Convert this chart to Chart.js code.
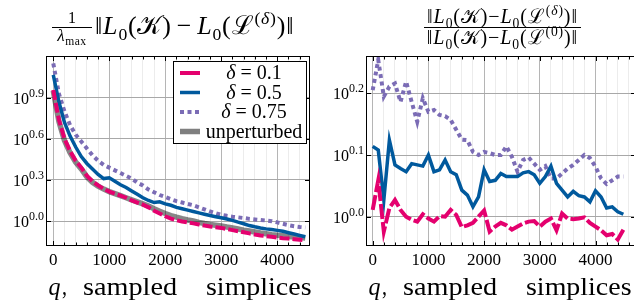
<!DOCTYPE html>
<html>
<head>
<meta charset="utf-8">
<script src="https://cdn.jsdelivr.net/npm/chart.js@4"></script>
<style>
  body { margin: 0; width: 634px; height: 305px; overflow: hidden; position: relative; background: #fff;
         font-family: "Liberation Serif", "DejaVu Serif", serif; color: #000; }
  canvas { position: absolute; top: 0; }
  .t { position: absolute; white-space: nowrap; line-height: 1; }
  .bar { position: absolute; height: 1px; background: #000; }
  sub, sup { font-size: 0.68em; line-height: 0; }
  .op { padding: 0 5px; }
</style>
</head>
<body>
<canvas id="left" width="320" height="305" style="left:0"></canvas>
<canvas id="right" width="320" height="305" style="left:320px"></canvas>

<!-- left title: 1/lambda_max ||L0(K) - L0(L^(delta))|| -->
<div class="t" style="left:52px; width:40px; text-align:center; top:10px; font-size:16px;">1</div>
<div class="bar" style="left:52px; width:40px; top:27px;"></div>
<div class="t" style="left:52px; width:40px; text-align:center; top:27px; font-size:17px; letter-spacing:0.5px;"><i>λ</i><sub>max</sub></div>
<div class="t" style="left:95px; top:13px; font-size:26px; letter-spacing:0.8px;">‖<i>L</i><sub>0</sub>(𝒦)<span class="op">−</span><i>L</i><sub>0</sub>(ℒ<sup>(<i>δ</i>)</sup>)‖</div>

<!-- right title: ratio of the two norms -->
<div class="t" style="left:424px; width:157px; text-align:center; top:6px; font-size:20px; letter-spacing:0.9px;">‖<i>L</i><sub>0</sub>(𝒦)−<i>L</i><sub>0</sub>(ℒ<sup>(<i>δ</i>)</sup>)‖</div>
<div class="bar" style="left:424px; width:157px; top:27px;"></div>
<div class="t" style="left:424px; width:157px; text-align:center; top:27px; font-size:20px; letter-spacing:0.9px;">‖<i>L</i><sub>0</sub>(𝒦)−<i>L</i><sub>0</sub>(ℒ<sup>(0)</sup>)‖</div>

<script>
// number of sampled simplices
const q = [0, 100, 200, 300, 400, 500, 600, 700, 800, 900, 1000, 1100, 1200, 1300, 1400, 1500,
  1600, 1700, 1800, 1900, 2000, 2100, 2200, 2300, 2400, 2500, 2600, 2700, 2800, 2900, 3000,
  3100, 3200, 3300, 3400, 3500, 3600, 3700, 3800, 3900, 4000, 4100, 4200, 4300, 4400, 4500];

// left panel, log10 of (1/lambda_max) * ||L0(K) - L0(L)||
const errDelta01 = [0.956, 0.74, 0.60, 0.51, 0.44, 0.39, 0.33, 0.29, 0.26, 0.235, 0.215, 0.20, 0.185,
  0.17, 0.15, 0.135, 0.12, 0.10, 0.075, 0.055, 0.035, 0.018, 0.006, -0.003, -0.01, -0.017, -0.025,
  -0.033, -0.04, -0.045, -0.05, -0.058, -0.066, -0.074, -0.082, -0.09, -0.098, -0.105, -0.11,
  -0.115, -0.12, -0.125, -0.128, -0.132, -0.136, -0.14];
const errDelta05 = [1.066, 0.87, 0.72, 0.62, 0.54, 0.47, 0.42, 0.38, 0.34, 0.31, 0.315, 0.29, 0.265,
  0.245, 0.22, 0.195, 0.17, 0.15, 0.135, 0.14, 0.125, 0.115, 0.10, 0.09, 0.08, 0.07, 0.06, 0.05,
  0.04, 0.032, 0.024, 0.015, 0.005, -0.008, -0.02, -0.033, -0.042, -0.05, -0.057, -0.062, -0.068,
  -0.075, -0.085, -0.095, -0.105, -0.115];
const errDelta075 = [1.15, 0.93, 0.80, 0.70, 0.63, 0.58, 0.53, 0.48, 0.44, 0.41, 0.39, 0.37, 0.35,
  0.33, 0.31, 0.28, 0.26, 0.23, 0.21, 0.19, 0.175, 0.16, 0.145, 0.135, 0.125, 0.115, 0.10, 0.085,
  0.07, 0.057, 0.045, 0.038, 0.032, 0.027, 0.022, 0.016, 0.012, 0.008, 0.004, -0.001, -0.01,
  -0.02, -0.03, -0.038, -0.043, -0.047];
const errUnperturbed = [0.95, 0.728, 0.588, 0.498, 0.43, 0.38, 0.322, 0.283, 0.254, 0.233, 0.215,
  0.20, 0.185, 0.17, 0.155, 0.14, 0.125, 0.11, 0.09, 0.072, 0.055, 0.04, 0.028, 0.017, 0.008, 0.0,
  -0.01, -0.018, -0.025, -0.03, -0.035, -0.043, -0.05, -0.058, -0.066, -0.073, -0.08, -0.087,
  -0.093, -0.099, -0.104, -0.108, -0.112, -0.116, -0.12, -0.124];

// right panel, log10 of the error ratio to the unperturbed one
const ratioDelta01 = [0.011, 0.059, -0.024, 0.014, 0.027, 0.011, 0, -0.005, -0.008, 0.004, -0.003,
  -0.008, 0.001, 0, 0.011, 0.003, -0.017, -0.014, -0.010, 0, 0.010, -0.024, -0.016, -0.010, -0.014,
  -0.021, -0.016, -0.011, -0.008, -0.007, -0.016, -0.008, -0.003, -0.022, 0.005, -0.003, -0.004,
  -0.003, -0.001, -0.010, -0.016, -0.022, -0.030, -0.028, -0.037, -0.021];
const ratioDelta05 = [0.114, 0.108, 0.027, 0.124, 0.084, 0.078, 0.073, 0.086, 0.084, 0.082, 0.100,
  0.073, 0.076, 0.092, 0.073, 0.068, 0.043, 0.035, 0.016, 0.032, 0.076, 0.057, 0.059, 0.070, 0.065,
  0.065, 0.065, 0.071, 0.073, 0.068, 0.054, 0.065, 0.082, 0.054, 0.043, 0.032, 0.041, 0.034, 0.032,
  0.024, 0.042, 0.032, 0.014, 0.016, 0.008, 0.004];
const ratioDelta075 = [0.205, 0.254, 0.195, 0.211, 0.216, 0.186, 0.219, 0.186, 0.154, 0.192, 0.170,
  0.173, 0.165, 0.163, 0.157, 0.141, 0.125, 0.124, 0.105, 0.100, 0.105, 0.103, 0.100, 0.100, 0.114,
  0.097, 0.073, 0.092, 0.096, 0.086, 0.076, 0.082, 0.062, 0.062, 0.070, 0.078, 0.084, 0.092, 0.100,
  0.095, 0.081, 0.062, 0.053, 0.059, 0.065, 0.065];

const leftTicks = [0, 0.3, 0.6, 0.9];
const leftTickLabels = ['0.0', '0.3', '0.6', '0.9'];
const rightTicks = [0, 0.1, 0.2];
const rightTickLabels = ['0.0', '0.1', '0.2'];
const xTicks = [0, 1000, 2000, 3000, 4000];
const xTickLabels = ['0', '1000', '2000', '3000', '4000'];
const legendLabels = ['δ = 0.1', 'δ = 0.5', 'δ = 0.75', 'unperturbed'];

const PINK = '#e4006e';
const BLUE = '#00599d';
const PURPLE = '#7b6cb5';
const SHADE = 'rgba(0,0,0,0.47)';
const SERIF = '"Liberation Serif", "DejaVu Serif", serif';

function pts(ys) {
  return ys.map((y, i) => ({ x: q[i], y: y }));
}

function line(ctx, x1, y1, x2, y2) {
  ctx.beginPath(); ctx.moveTo(x1, y1); ctx.lineTo(x2, y2); ctx.stroke();
}

// draw text stretched horizontally so it spans [left, right]
function fitText(ctx, text, left, right, base) {
  const w = ctx.measureText(text).width;
  ctx.save();
  ctx.translate(left, base);
  ctx.scale((right - left) / w, 1);
  ctx.textAlign = 'left';
  ctx.fillText(text, 0, 0);
  ctx.restore();
}

function powerLabel(ctx, exp, right, yMid) {
  ctx.font = '16px ' + SERIF;
  const baseW = ctx.measureText('10').width;
  ctx.font = '12px ' + SERIF;
  const supW = ctx.measureText(exp).width;
  ctx.textAlign = 'left';
  ctx.textBaseline = 'alphabetic';
  ctx.fillText(exp, right - supW, yMid - 1);
  ctx.font = '16px ' + SERIF;
  ctx.fillText('10', right - supW - baseW, yMid + 6);
}

const framePlugin = {
  id: 'frame',
  afterDraw(chart, args, opts) {
    const ctx = chart.ctx;
    const a = chart.chartArea;
    const x = chart.scales.x, y = chart.scales.y;
    ctx.save();
    ctx.strokeStyle = '#000';
    ctx.lineWidth = 1;
    ctx.setLineDash([]);

    // inward ticks on all four sides
    x.ticks.forEach(t => {
      const px = Math.round(x.getPixelForValue(t.value)) + 0.5;
      const len = t.value % 1000 === 0 ? 5 : 3.5;
      line(ctx, px, a.top, px, a.top + len);
      line(ctx, px, a.bottom, px, a.bottom - len);
    });
    y.ticks.forEach(t => {
      const py = Math.round(y.getPixelForValue(t.value)) + 0.5;
      line(ctx, a.left, py, a.left + 5, py);
      line(ctx, a.right, py, a.right - 5, py);
    });
    ctx.strokeRect(Math.round(a.left) + 0.5, Math.round(a.top) + 0.5,
      Math.round(a.right - a.left) - 1, Math.round(a.bottom - a.top) - 1);

    // tick labels
    ctx.fillStyle = '#000';
    ctx.font = '17px ' + SERIF;
    ctx.textAlign = 'center';
    ctx.textBaseline = 'alphabetic';
    xTicks.forEach((v, i) => {
      ctx.fillText(xTickLabels[i], x.getPixelForValue(v), 265);
    });
    opts.yTicks.forEach((v, i) => {
      powerLabel(ctx, opts.yLabels[i], a.left - 2, y.getPixelForValue(v));
    });

    // x axis title: q, sampled   simplices
    ctx.font = 'italic 25px ' + SERIF;
    fitText(ctx, 'q', 48.5, 60.5, 295);
    ctx.font = '25px ' + SERIF;
    fitText(ctx, ',', 62, 67, 295);
    fitText(ctx, 'sampled', 83, 177, 295);
    fitText(ctx, 'simplices', 206, 311.5, 295);

    if (opts.legend) {
      const bx = 173, by = 61, bw = 133, bh = 82;
      ctx.fillStyle = '#fff';
      ctx.fillRect(bx, by, bw, bh);
      ctx.strokeStyle = '#000';
      ctx.strokeRect(bx + 0.5, by + 0.5, bw, bh);
      const rows = [73, 92.5, 112, 131.5];
      const styles = [
        { c: PINK, w: 4, d: [] },
        { c: BLUE, w: 3.5, d: [] },
        { c: PURPLE, w: 4, d: [4, 3.5] },
        { c: 'rgba(0,0,0,0.5)', w: 5.5, d: [] }
      ];
      rows.forEach((ry, i) => {
        const s = styles[i];
        ctx.strokeStyle = s.c;
        ctx.lineWidth = s.w;
        ctx.lineCap = 'butt';
        ctx.setLineDash(s.d);
        line(ctx, 180, ry, 200, ry);
        ctx.setLineDash([]);
        ctx.fillStyle = '#000';
        const label = legendLabels[i];
        const cx = 254, base = ry + 6;
        if (label.startsWith('δ')) {
          ctx.font = 'italic 20px ' + SERIF;
          const dW = ctx.measureText('δ').width;
          ctx.font = '20px ' + SERIF;
          const rest = label.slice(1);
          const rW = ctx.measureText(rest).width;
          const start = cx - (dW + rW) / 2;
          ctx.textAlign = 'left';
          ctx.font = 'italic 20px ' + SERIF;
          ctx.fillText('δ', start, base);
          ctx.font = '20px ' + SERIF;
          ctx.fillText(rest, start + dW, base);
        } else {
          ctx.font = '20px ' + SERIF;
          ctx.textAlign = 'center';
          ctx.fillText(label, cx, base);
        }
      });
    }
    ctx.restore();
  }
};

function axes(xMin, xMax, yMin, yMax, yTicks, yAxisWidth) {
  return {
    x: {
      type: 'linear', min: xMin, max: xMax,
      afterBuildTicks: s => {
        const t = [];
        for (let v = 0; v <= s.max; v += 200) t.push({ value: v });
        s.ticks = t;
      },
      ticks: { display: false },
      grid: {
        drawTicks: false, lineWidth: 1,
        color: c => (c.tick && c.tick.value % 1000 === 0) ? '#b5b5b5' : '#ececec'
      },
      border: { display: false },
      afterFit: s => { s.height = 59; }
    },
    y: {
      type: 'linear', min: yMin, max: yMax,
      afterBuildTicks: s => { s.ticks = yTicks.map(v => ({ value: v })); },
      ticks: { display: false },
      grid: { drawTicks: false, color: '#a8a8a8', lineWidth: 1 },
      border: { display: false },
      afterFit: s => { s.width = yAxisWidth; }
    }
  };
}

function series(data, color, width, dash) {
  return {
    data: pts(data), borderColor: color, borderWidth: width, borderDash: dash,
    pointRadius: 0, tension: 0, fill: false, borderJoinStyle: 'miter', borderCapStyle: 'butt'
  };
}

new Chart(document.getElementById('left'), {
  type: 'line',
  data: {
    datasets: [
      series(errDelta01, PINK, 4, [10, 3]),
      series(errDelta05, BLUE, 3.5, []),
      series(errDelta075, PURPLE, 4, [4, 3.5]),
      series(errUnperturbed, SHADE, 5.5, [])
    ]
  },
  options: {
    responsive: false, animation: false,
    layout: { padding: { top: 56, right: 10, left: 0, bottom: 0 } },
    plugins: {
      legend: { display: false }, tooltip: { enabled: false },
      frame: { yTicks: leftTicks, yLabels: leftTickLabels, legend: true }
    },
    scales: axes(-130, 4584, -0.182, 1.204, leftTicks, 46)
  },
  plugins: [framePlugin]
});

new Chart(document.getElementById('right'), {
  type: 'line',
  data: {
    datasets: [
      series(ratioDelta01, PINK, 4, [15, 3]),
      series(ratioDelta05, BLUE, 3.5, []),
      series(ratioDelta075, PURPLE, 4, [4, 3.5])
    ]
  },
  options: {
    responsive: false, animation: false,
    layout: { padding: { top: 56, right: 4, left: 0, bottom: 0 } },
    plugins: {
      legend: { display: false }, tooltip: { enabled: false },
      frame: { yTicks: rightTicks, yLabels: rightTickLabels, legend: false }
    },
    scales: axes(-120, 4727, -0.0475, 0.2605, rightTicks, 46)
  },
  plugins: [framePlugin]
});
</script>
</body>
</html>
